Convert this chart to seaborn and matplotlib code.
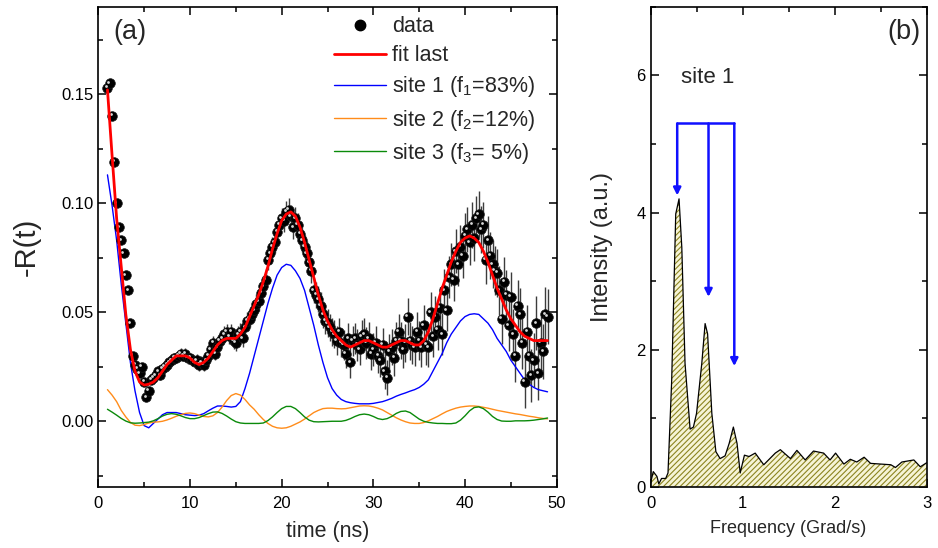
import numpy as np
import matplotlib
matplotlib.use("Agg")
import matplotlib.pyplot as plt
import seaborn as sns
from matplotlib.lines import Line2D
from matplotlib.ticker import MultipleLocator
from matplotlib.transforms import offset_copy

# ---- panel (a): measured R(t), 0.25 ns steps from 1 ns to 49 ns
time_data = np.arange(1.0, 49.01, 0.25)
r_data = [
    0.153, 0.155, 0.140, 0.119, 0.100, 0.089, 0.083, 0.077,
    0.067, 0.060, 0.045, 0.030, 0.026, 0.024, 0.022, 0.025,
    0.018, 0.011, 0.014, 0.019, 0.020, 0.021, 0.023, 0.021,
    0.024, 0.025, 0.026, 0.027, 0.028, 0.029, 0.029, 0.030,
    0.031, 0.030, 0.031, 0.029, 0.029, 0.028, 0.027, 0.028,
    0.026, 0.027, 0.026, 0.028, 0.030, 0.033, 0.036, 0.031,
    0.034, 0.037, 0.038, 0.040, 0.041, 0.039, 0.041, 0.037,
    0.036, 0.040, 0.041, 0.038, 0.043, 0.046, 0.047, 0.049,
    0.051, 0.054, 0.055, 0.059, 0.062, 0.065, 0.074, 0.077,
    0.080, 0.082, 0.087, 0.090, 0.093, 0.092, 0.096, 0.097,
    0.094, 0.089, 0.093, 0.090, 0.086, 0.083, 0.080, 0.077,
    0.073, 0.069, 0.060, 0.058, 0.056, 0.053, 0.049, 0.046,
    0.045, 0.043, 0.041, 0.040, 0.037, 0.041, 0.036, 0.035,
    0.031, 0.038, 0.027, 0.037, 0.038, 0.035, 0.033, 0.039,
    0.040, 0.036, 0.038, 0.031, 0.033, 0.036, 0.030, 0.028,
    0.035, 0.023, 0.020, 0.032, 0.034, 0.029, 0.037, 0.041,
    0.037, 0.033, 0.036, 0.048, 0.037, 0.035, 0.034, 0.041,
    0.037, 0.034, 0.044, 0.035, 0.034, 0.050, 0.039, 0.048,
    0.042, 0.052, 0.040, 0.060, 0.051, 0.066, 0.072, 0.065,
    0.078, 0.072, 0.080, 0.076, 0.085, 0.088, 0.082, 0.090,
    0.084, 0.093, 0.095, 0.088, 0.090, 0.074, 0.083, 0.076,
    0.072, 0.069, 0.068, 0.060, 0.047, 0.064, 0.058, 0.044,
    0.057, 0.040, 0.030, 0.053, 0.049, 0.036, 0.018, 0.041,
    0.030, 0.021, 0.028, 0.045, 0.022, 0.036, 0.032, 0.049,
    0.048,
]
r_err = [
    0.0015, 0.0015, 0.0015, 0.0015, 0.0015, 0.0015, 0.0015, 0.0015,
    0.0015, 0.0015, 0.0016, 0.0016, 0.0016, 0.0017, 0.0017, 0.0017,
    0.0018, 0.0018, 0.0018, 0.0019, 0.0019, 0.0019, 0.0020, 0.0020,
    0.0020, 0.0021, 0.0020, 0.0022, 0.0021, 0.0023, 0.0022, 0.0024,
    0.0024, 0.0025, 0.0024, 0.0026, 0.0025, 0.0027, 0.0026, 0.0028,
    0.0028, 0.0029, 0.0028, 0.0030, 0.0031, 0.0030, 0.0032, 0.0031,
    0.0033, 0.0032, 0.0034, 0.0035, 0.0034, 0.0036, 0.0035, 0.0037,
    0.0037, 0.0038, 0.0039, 0.0038, 0.0040, 0.0041, 0.0040, 0.0042,
    0.0042, 0.0043, 0.0044, 0.0043, 0.0045, 0.0046, 0.0045, 0.0047,
    0.0047, 0.0048, 0.0049, 0.0048, 0.0050, 0.0051, 0.0050, 0.0052,
    0.0052, 0.0053, 0.0054, 0.0053, 0.0055, 0.0056, 0.0055, 0.0057,
    0.0057, 0.0058, 0.0059, 0.0060, 0.0059, 0.0061, 0.0062, 0.0061,
    0.0063, 0.0064, 0.0063, 0.0065, 0.0066, 0.0065, 0.0067, 0.0068,
    0.0068, 0.0069, 0.0070, 0.0069, 0.0071, 0.0072, 0.0071, 0.0073,
    0.0074, 0.0073, 0.0075, 0.0076, 0.0075, 0.0077, 0.0078, 0.0077,
    0.0079, 0.0080, 0.0079, 0.0081, 0.0082, 0.0081, 0.0083, 0.0084,
    0.0084, 0.0085, 0.0086, 0.0085, 0.0087, 0.0088, 0.0087, 0.0089,
    0.0090, 0.0089, 0.0091, 0.0092, 0.0091, 0.0093, 0.0094, 0.0093,
    0.0095, 0.0096, 0.0095, 0.0097, 0.0098, 0.0097, 0.0099, 0.0100,
    0.0100, 0.0101, 0.0102, 0.0101, 0.0103, 0.0104, 0.0103, 0.0105,
    0.0106, 0.0105, 0.0107, 0.0108, 0.0107, 0.0109, 0.0110, 0.0109,
    0.0111, 0.0112, 0.0111, 0.0113, 0.0114, 0.0113, 0.0115, 0.0116,
    0.0116, 0.0117, 0.0118, 0.0117, 0.0119, 0.0120, 0.0119, 0.0121,
    0.0122, 0.0121, 0.0123, 0.0124, 0.0123, 0.0125, 0.0126, 0.0125,
    0.0127,
]

# ---- fit and site components, 0.5 ns steps from 1 ns to 49 ns
time_fit = np.arange(1.0, 49.01, 0.5)
fit_last = [
    0.152, 0.122, 0.093, 0.071, 0.049, 0.033, 0.023, 0.018, 0.0166, 0.017,
    0.018, 0.020, 0.023, 0.026, 0.028, 0.030, 0.030, 0.030, 0.029, 0.027,
    0.026, 0.027, 0.029, 0.032, 0.035, 0.037, 0.038, 0.038, 0.038, 0.040,
    0.043, 0.048, 0.053, 0.058, 0.064, 0.071, 0.079, 0.086, 0.092, 0.095,
    0.096, 0.094, 0.089, 0.082, 0.074, 0.066, 0.058, 0.051, 0.046, 0.042,
    0.039, 0.037, 0.035, 0.034, 0.035, 0.036, 0.037, 0.037, 0.036, 0.035,
    0.034, 0.034, 0.035, 0.036, 0.037, 0.037, 0.036, 0.035, 0.035, 0.037,
    0.041, 0.047, 0.054, 0.061, 0.067, 0.073, 0.078, 0.082, 0.084, 0.085,
    0.084, 0.082, 0.078, 0.073, 0.067, 0.061, 0.056, 0.051, 0.047, 0.044,
    0.041, 0.039, 0.038, 0.037, 0.037, 0.037, 0.037,
]
site1 = [
    0.113, 0.099, 0.083, 0.063, 0.045, 0.027, 0.014, 0.004, -0.002, -0.003,
    -0.001, 0.001, 0.003, 0.004, 0.004, 0.004, 0.0035, 0.003, 0.0028, 0.0026,
    0.0028, 0.0035, 0.0048, 0.006, 0.007, 0.007, 0.0068, 0.0065, 0.0068, 0.009,
    0.015, 0.022, 0.030, 0.038, 0.046, 0.054, 0.061, 0.067, 0.0705, 0.072,
    0.0715, 0.069, 0.0655, 0.060, 0.052, 0.044, 0.035, 0.027, 0.020, 0.015,
    0.012, 0.010, 0.009, 0.0085, 0.0082, 0.008, 0.008, 0.008, 0.0082, 0.0086,
    0.009, 0.0097, 0.0105, 0.0115, 0.0123, 0.013, 0.0138, 0.0145, 0.0155, 0.017,
    0.019, 0.023, 0.027, 0.031, 0.036, 0.040, 0.043, 0.046, 0.048, 0.049,
    0.0493, 0.049, 0.047, 0.045, 0.042, 0.038, 0.035, 0.032, 0.028, 0.025,
    0.022, 0.019, 0.017, 0.0155, 0.0145, 0.014, 0.0135,
]
site2 = [
    0.0145, 0.012, 0.009, 0.005, 0.002, -0.0005, -0.0018, -0.002, -0.0015, -0.0008,
    -0.0004, -0.0003, 0.0, 0.0006, 0.0014, 0.0023, 0.003, 0.0036, 0.0038, 0.0035,
    0.0028, 0.0022, 0.002, 0.0025, 0.004, 0.0065, 0.0095, 0.0118, 0.0127, 0.012,
    0.010, 0.0075, 0.0055, 0.003, 0.0008, -0.001, -0.0023, -0.003, -0.0032, -0.003,
    -0.0023, -0.0013, -0.0003, 0.001, 0.0025, 0.004, 0.005, 0.0058, 0.006, 0.006,
    0.0058, 0.0057, 0.0058, 0.0062, 0.0066, 0.007, 0.0071, 0.007, 0.0066, 0.006,
    0.0052, 0.004, 0.0028, 0.0016, 0.0006, -0.0002, -0.0008, -0.001, -0.001, -0.0006,
    0.0002, 0.0012, 0.0022, 0.0034, 0.0045, 0.0053, 0.006, 0.0065, 0.0068, 0.007,
    0.007, 0.0068, 0.0064, 0.006, 0.0055, 0.005, 0.0046, 0.0042, 0.0038, 0.0034,
    0.0031, 0.0027, 0.0023, 0.002, 0.0016, 0.0013, 0.0011,
]
site3 = [
    0.0055, 0.0042, 0.0028, 0.0013, 0.0001, -0.0007, -0.0009, -0.0008, -0.0006, -0.0004,
    0.0002, 0.0012, 0.0024, 0.0032, 0.0035, 0.0032, 0.0025, 0.0017, 0.0012, 0.0012,
    0.0017, 0.0026, 0.0035, 0.0042, 0.0043, 0.0036, 0.0024, 0.001, -0.0002, -0.0008,
    -0.001, -0.001, -0.001, -0.001, -0.0008, 0.0003, 0.002, 0.004, 0.0058, 0.0068,
    0.0068, 0.0058, 0.004, 0.002, 0.0005, -0.0002, -0.0003, -0.0002, -0.0001, 0.0,
    0.0, 0.0, 0.0004, 0.0012, 0.0022, 0.003, 0.0033, 0.003, 0.0022, 0.0012,
    0.0008, 0.0012, 0.0022, 0.0036, 0.0045, 0.0047, 0.004, 0.0025, 0.001, 0.0,
    -0.0005, -0.0008, -0.001, -0.001, -0.0011, -0.0011, -0.0008, 0.0005, 0.0025, 0.0048,
    0.0063, 0.0066, 0.0058, 0.0042, 0.0022, 0.0008, 0.0001, 0.0, 0.0, 0.0002,
    0.0002, 0.0002, 0.0003, 0.0005, 0.0008, 0.0011, 0.0015,
]

# ---- panel (b): Fourier spectrum
freq = [0.0, 0.03, 0.07, 0.09, 0.12, 0.165, 0.19, 0.23, 0.274, 0.31,
        0.34, 0.375, 0.43, 0.466, 0.50, 0.557, 0.593, 0.62, 0.666, 0.71,
        0.756, 0.81, 0.854, 0.90, 0.94, 0.974, 1.02, 1.07, 1.137, 1.23,
        1.355, 1.41, 1.52, 1.59, 1.68, 1.77, 1.88, 1.95, 2.01, 2.10,
        2.17, 2.24, 2.32, 2.39, 2.50, 2.61, 2.66, 2.73, 2.86, 2.93, 3.0]
intensity = [0.05, 0.22, 0.15, 0.04, 0.12, 0.12, 0.20, 1.55, 3.98, 4.20,
             3.49, 1.80, 0.84, 0.87, 1.07, 1.80, 2.38, 2.23, 1.07, 0.51,
             0.41, 0.45, 0.63, 0.87, 0.63, 0.20, 0.46, 0.44, 0.49, 0.32,
             0.49, 0.54, 0.41, 0.53, 0.39, 0.52, 0.49, 0.39, 0.49, 0.33,
             0.40, 0.36, 0.43, 0.34, 0.33, 0.32, 0.28, 0.36, 0.39, 0.29, 0.35]
arrow_freqs = [0.29, 0.63, 0.91]
arrow_tips = [4.25, 2.77, 1.76]
bracket_level = 5.3

sns.set_theme(style="ticks")
plt.rcParams['font.family'] = ['Liberation Sans', 'DejaVu Sans']
plt.rcParams['mathtext.fontset'] = 'custom'
plt.rcParams['mathtext.rm'] = 'Liberation Sans'
plt.rcParams['mathtext.it'] = 'Liberation Sans:italic'
plt.rcParams['hatch.linewidth'] = 0.8

fig = plt.figure(figsize=(9.38, 5.48), dpi=100)
ax1 = fig.add_axes([0.1048, 0.1119, 0.4887, 0.8754])
ax2 = fig.add_axes([0.6935, 0.1119, 0.2945, 0.8754])

# data with error bars and "sphere" markers
ax1.errorbar(time_data, r_data, yerr=r_err, fmt='none', ecolor='#3c3c3c',
             elinewidth=1.0, capsize=0, zorder=2)
sns.scatterplot(x=time_data, y=r_data, ax=ax1, color='black', s=48,
                edgecolor='#1a1a1a', linewidth=0.5, zorder=3)
shine = offset_copy(ax1.transData, fig=fig, x=-1.0, y=1.1, units='points')
ax1.plot(time_data, r_data, 'o', ms=2.0, color='#d8d8d8', mew=0,
         transform=shine, zorder=3.5)

sns.lineplot(x=time_fit, y=site1, ax=ax1, color='#0000ff', lw=1.0, zorder=2.5)
sns.lineplot(x=time_fit, y=site2, ax=ax1, color='#ff8c1a', lw=1.0, zorder=2.5)
sns.lineplot(x=time_fit, y=site3, ax=ax1, color='#0a8a0a', lw=1.0, zorder=2.5)
sns.lineplot(x=time_fit, y=fit_last, ax=ax1, color='#ff0000', lw=2.0, zorder=4)

ax1.set_xlim(0, 50)
ax1.set_ylim(-0.03, 0.19)
ax1.xaxis.set_major_locator(MultipleLocator(10))
ax1.xaxis.set_minor_locator(MultipleLocator(5))
ax1.yaxis.set_major_locator(MultipleLocator(0.05))
ax1.yaxis.set_minor_locator(MultipleLocator(0.025))
ax1.set_yticks([0.0, 0.05, 0.10, 0.15])
ax1.set_yticklabels(['0.00', '0.05', '0.10', '0.15'])
ax1.set_xlabel('time (ns)', fontsize=15.5, labelpad=7)
ax1.set_ylabel('-R(t)', fontsize=21, labelpad=15)
ax1.text(0.032, 0.975, '(a)', transform=ax1.transAxes, fontsize=19.5,
         ha='left', va='top')

handles = [
    Line2D([], [], ls='none', marker='o', ms=7.5, color='black'),
    Line2D([], [], color='#ff0000', lw=2.0),
    Line2D([], [], color='#0000ff', lw=1.0),
    Line2D([], [], color='#ff8c1a', lw=1.0),
    Line2D([], [], color='#0a8a0a', lw=1.0),
]
labels = ['data', 'fit last', 'site 1 (f$_1$=83%)', 'site 2 (f$_2$=12%)',
          'site 3 (f$_3$= 5%)']
ax1.legend(handles, labels, loc='upper left', bbox_to_anchor=(0.505, 0.99),
           frameon=False, fontsize=15.5, handlelength=2.4, handletextpad=0.3,
           labelspacing=0.38, borderpad=0.2, borderaxespad=0)

# spectrum with hatched area
ax2.fill_between(freq, 0, intensity, facecolor='#f6f4d6', edgecolor='#8c8420',
                 hatch='//////', lw=0, zorder=1)
sns.lineplot(x=freq, y=intensity, ax=ax2, color='black', lw=0.9, sort=False,
             zorder=2)

for f, tip in zip(arrow_freqs, arrow_tips):
    ax2.annotate('', xy=(f, tip), xytext=(f, bracket_level),
                 arrowprops=dict(arrowstyle='-|>', color='#1010ff', lw=1.8,
                                 mutation_scale=11, shrinkA=0, shrinkB=0))
ax2.plot([arrow_freqs[0], arrow_freqs[-1]], [bracket_level, bracket_level],
         color='#1010ff', lw=1.8)

ax2.set_xlim(0, 3)
ax2.set_ylim(0, 7)
ax2.xaxis.set_major_locator(MultipleLocator(1))
ax2.xaxis.set_minor_locator(MultipleLocator(0.5))
ax2.yaxis.set_major_locator(MultipleLocator(2))
ax2.yaxis.set_minor_locator(MultipleLocator(1))
ax2.set_xlabel('Frequency (Grad/s)', fontsize=13, labelpad=6)
ax2.set_ylabel('Intensity (a.u.)', fontsize=17, labelpad=17)
ax2.text(0.978, 0.975, '(b)', transform=ax2.transAxes, fontsize=19.5,
         ha='right', va='top')
ax2.text(0.109, 0.852, 'site 1', transform=ax2.transAxes, fontsize=16,
         ha='left', va='center')

for ax in (ax1, ax2):
    ax.tick_params(which='both', direction='in', top=True, right=True,
                   labelsize=12, width=1.1, colors='black')
    ax.tick_params(which='major', length=6)
    ax.tick_params(which='minor', length=3.5)
    ax.tick_params(axis='x', pad=7)
    for side in ax.spines.values():
        side.set_linewidth(1.2)
        side.set_color('black')
    ax.set_facecolor('white')

fig.savefig('out.png', dpi=100)
